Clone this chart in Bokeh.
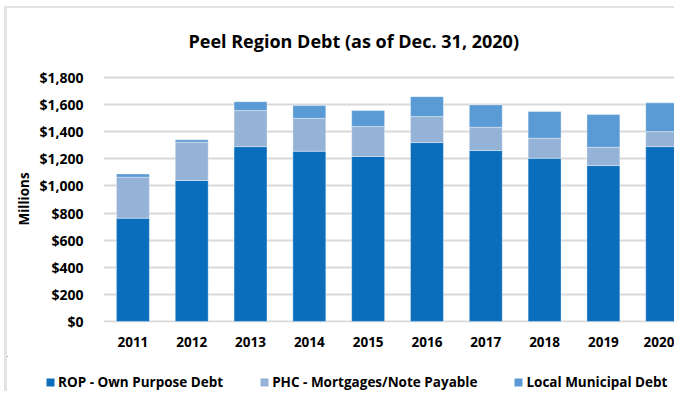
from bokeh.plotting import figure
from bokeh.models import (Range1d, FixedTicker, NumeralTickFormatter, Legend, LegendItem,
                          ColumnDataSource)
from bokeh.layouts import column
from bokeh.embed import file_html
from bokeh.resources import INLINE

years = ["2011", "2012", "2013", "2014", "2015", "2016", "2017", "2018", "2019", "2020"]
rop = [762, 1040, 1290, 1256, 1217, 1320, 1261, 1204, 1150, 1290]
phc = [302, 282, 266, 243, 221, 192, 172, 148, 135, 111]
local = [24, 18, 66, 94, 118, 147, 165, 197, 242, 212]
series_names = ["ROP - Own Purpose Debt", "PHC - Mortgages/Note Payable", "Local Municipal Debt"]
colors = ["#0A6EBD", "#95B3D7", "#5B9BD5"]
y_ticks = [0, 200, 400, 600, 800, 1000, 1200, 1400, 1600, 1800]

FONT = "Open Sans"
BORDER = "#E3E3E3"
W = 670

idx = list(range(len(years)))
src = ColumnDataSource(dict(x=idx, rop=rop, phc=phc, local=local))

p = figure(width=W, height=350, output_backend="svg", toolbar_location=None,
           x_range=Range1d(-0.5, 9.26), y_range=Range1d(-8, 1815),
           min_border_left=96, min_border_right=0, min_border_top=67, min_border_bottom=36,
           title="Peel Region Debt (as of Dec. 31, 2020)")
p.frame_align = False
p.styles = {"border-left": "3px solid " + BORDER, "border-top": "2px solid " + BORDER}
p.outline_line_color = None
p.background_fill_color = "white"
p.border_fill_color = "white"

p.vbar_stack(["rop", "phc", "local"], x="x", width=0.56, source=src,
             color=colors, line_color="white", line_width=0.6, line_alpha=0.6)

# title
p.title.text_font = FONT
p.title.text_font_style = "bold"
p.title.text_font_size = "18px"
p.title.text_color = "#000000"
p.title.align = "left"
p.title.offset = 85
p.title.vertical_align = "top"
p.title.standoff = 41

# axes
p.xaxis.ticker = FixedTicker(ticks=idx)
p.xaxis.major_label_overrides = {i: y for i, y in zip(idx, years)}
p.yaxis.ticker = FixedTicker(ticks=y_ticks)
p.yaxis.formatter = NumeralTickFormatter(format="$0,0")
for ax in (p.xaxis[0], p.yaxis[0]):
    ax.axis_line_color = None
    ax.major_tick_line_color = None
    ax.minor_tick_line_color = None
    ax.major_label_text_font = FONT
    ax.major_label_text_font_style = "bold"
    ax.major_label_text_color = "#000000"
p.xaxis.major_label_text_font_size = "13.5px"
p.yaxis.major_label_text_font_size = "14px"
p.xaxis.major_label_standoff = 8
p.yaxis.major_label_standoff = 14
p.yaxis.axis_label = "Millions"
p.yaxis.axis_label_text_font = FONT
p.yaxis.axis_label_text_font_style = "bold"
p.yaxis.axis_label_text_font_size = "13.5px"
p.yaxis.axis_label_text_color = "#000000"
p.yaxis.axis_label_standoff = 3

p.xgrid.grid_line_color = None
p.ygrid.grid_line_color = "#D9D9D9"
p.ygrid.grid_line_width = 2

# legend strip (separate figure so the legend is not clipped by the plot frame);
# its bars lie outside its visible ranges, only the legend shows
leg = figure(width=W, height=35, output_backend="svg", toolbar_location=None,
             x_range=Range1d(100, 101), y_range=Range1d(-10, -9),
             x_axis_type=None, y_axis_type=None,
             min_border_left=0, min_border_right=0, min_border_top=0, min_border_bottom=0)
leg.frame_align = False
leg.styles = {"border-left": "3px solid " + BORDER}
leg.outline_line_color = None
leg.background_fill_color = "white"
leg.border_fill_color = "white"
leg.xgrid.visible = False
leg.ygrid.visible = False
leg_renderers = leg.vbar_stack(["rop", "phc", "local"], x="x", width=0.56, source=src,
                               color=colors, line_color=None)
legend = Legend(items=[LegendItem(label=n, renderers=[r]) for n, r in zip(series_names, leg_renderers)],
                orientation="horizontal", location=(38, 0),
                glyph_width=10, glyph_height=10, label_standoff=3, spacing=36,
                padding=0, margin=0, border_line_color=None, background_fill_alpha=0,
                label_text_font=FONT, label_text_font_style="bold",
                label_text_font_size="13.5px", label_text_color="#000000")
leg.add_layout(legend, "center")

layout = column(p, leg, spacing=0)
layout.styles = {"padding-left": "4px", "padding-top": "6px"}

open("out.html", "w").write(file_html(layout, INLINE))
